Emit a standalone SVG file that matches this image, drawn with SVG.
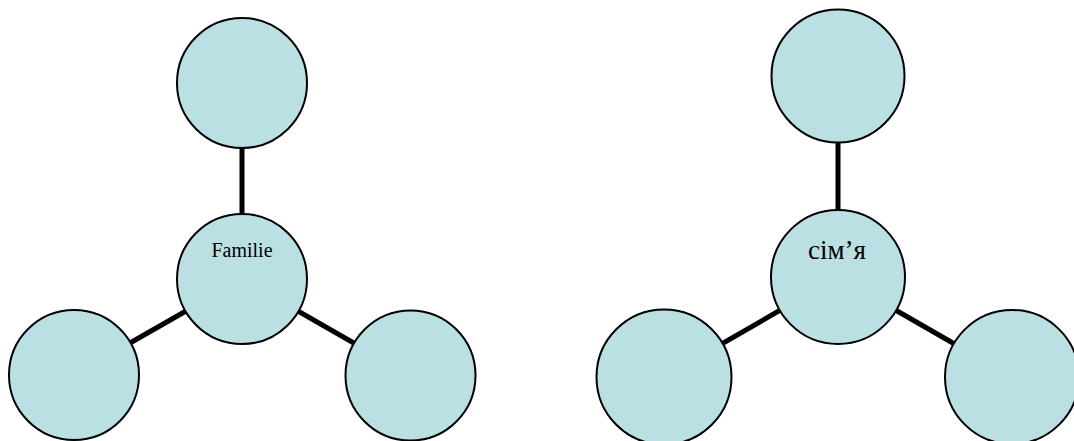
<svg xmlns="http://www.w3.org/2000/svg" width="1074" height="441" viewBox="0 0 1074 441">
<style>
.n{fill:#bae0e4;stroke:#000;stroke-width:2}
.c{stroke:#000;stroke-width:5;fill:none}
.t{font-family:"Liberation Serif","Times New Roman",serif;fill:#000;text-anchor:middle}
</style>
<rect width="1074" height="441" fill="#fff"/>
<g id="connectors">
<line class="c" x1="242" y1="83" x2="242" y2="279"/>
<line class="c" x1="242" y1="279" x2="74" y2="375"/>
<line class="c" x1="242" y1="279" x2="410.5" y2="375.5"/>
<line class="c" x1="838" y1="76" x2="838" y2="277"/>
<line class="c" x1="838" y1="277" x2="664" y2="377"/>
<line class="c" x1="838" y1="277" x2="1012" y2="377"/>
</g>
<g id="l-top"><circle class="n" cx="242" cy="83" r="65"/></g>
<g id="l-center"><circle class="n" cx="242" cy="279" r="65"/><text class="t" x="242" y="257" font-size="20">Familie</text></g>
<g id="l-left"><circle class="n" cx="74" cy="375" r="65"/></g>
<g id="l-right"><circle class="n" cx="410.5" cy="375.5" r="65"/></g>
<g id="r-top"><circle class="n" cx="838" cy="76" r="66.5"/></g>
<g id="r-center"><circle class="n" cx="838" cy="277" r="67"/><text class="t" x="837" y="259" font-size="27">сім’я</text></g>
<g id="r-left"><circle class="n" cx="664" cy="377" r="67.5"/></g>
<g id="r-right"><circle class="n" cx="1012" cy="377" r="67"/></g>
</svg>
